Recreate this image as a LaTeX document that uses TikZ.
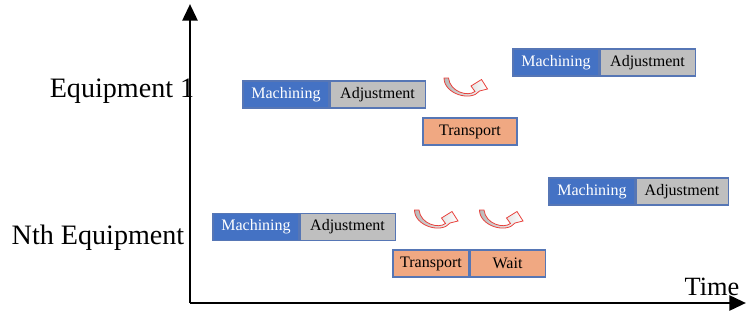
\documentclass[tikz,border=0pt]{standalone}
\usepackage{fontspec}
\setmainfont{Liberation Serif}
\usetikzlibrary{positioning,arrows.meta}

\definecolor{machblue}{HTML}{4472C4}
\definecolor{adjgray}{HTML}{BFBFBF}
\definecolor{transorange}{HTML}{F0A882}
\definecolor{boxedge}{HTML}{5676B5}
\definecolor{arrowred}{HTML}{E8413C}

\tikzset{
  turnarrow/.pic={
    \shade[draw=arrowred,line width=0.45pt,left color=gray!55,right color=white,x=0.02cm,y=-0.02cm]
      (0,0) .. controls (0,16) and (27,24) .. (35.5,13) -- (43.5,11) -- (37.5,1.5)
      -- (27,8) -- (31,13.5) .. controls (24,19) and (6,14) .. (4.5,0) -- cycle;
  }
}

\begin{document}
\begin{tikzpicture}[node distance=0pt,
  task/.style={draw=boxedge,line width=0.6pt,minimum height=0.54cm,inner sep=0pt,font=\fontsize{9.1}{10}\selectfont},
  mach/.style={task,fill=machblue,text=white,minimum width=1.72cm},
  adj/.style={task,fill=adjgray,minimum width=1.9cm},
  trans/.style={task,fill=transorange,minimum width=1.52cm},
  axis/.style={line width=1.7pt,-{Triangle[width=8.5pt,length=9.5pt]}},
  lbl/.style={font=\fontsize{16}{18}\selectfont}]

\useasboundingbox (0,0) rectangle (15,6.46);

% axes
\coordinate (o) at (3.8,0.4);
\coordinate (ytop) at (3.8,6.38);
\coordinate (xend) at (14.92,0.4);
\draw[axis] (o) -- (ytop);
\draw[axis] (o) -- (xend);

\node[lbl](eq1) at (2.44,4.64){Equipment 1};
\node[lbl](eqn) at (1.96,1.70){Nth Equipment};
\node[font=\fontsize{15}{17}\selectfont](time) at (14.24,0.72){Time};

% equipment 1
\node[mach](m1) at (5.72,4.57){Machining};
\node[adj](a1)[right=of m1]{Adjustment};
\node[trans,minimum width=1.88cm](t1) at (9.4,3.83){Transport};
\node[mach](m2) at (11.12,5.21){Machining};
\node[adj](a2)[right=of m2]{Adjustment};

% nth equipment
\node[mach](m3) at (5.12,1.92){Machining};
\node[adj](a3)[right=of m3]{Adjustment};
\node[trans](t2) at (8.62,1.19){Transport};
\node[trans,minimum width=1.5cm](w2)[right=of t2]{Wait};
\node[mach](m4) at (11.84,2.63){Machining};
\node[adj,minimum width=1.84cm](a4)[right=of m4]{Adjustment};

% turn arrows
\pic at (8.88,4.90) {turnarrow};
\pic at (8.29,2.26) {turnarrow};
\pic at (9.59,2.26) {turnarrow};

\end{tikzpicture}
\end{document}
